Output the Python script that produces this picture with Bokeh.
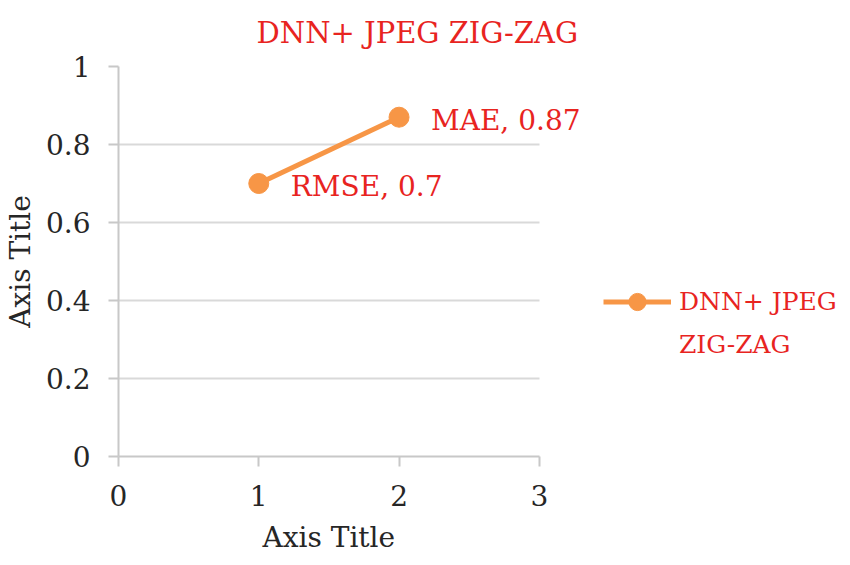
from bokeh.plotting import figure
from bokeh.models import Range1d, FixedTicker, Legend, LegendItem, ColumnDataSource, Title
from bokeh.core.properties import value
from bokeh.embed import file_html
from bokeh.resources import INLINE

# ---- data ----
metric_names = ["RMSE", "MAE"]
x_vals = [1, 2]
y_vals = [0.7, 0.87]
series_name = "DNN+ JPEG ZIG-ZAG"
legend_lines = ["DNN+ JPEG", "ZIG-ZAG"]
x_ticks = [0, 1, 2, 3]
x_tick_labels = ["0", "1", "2", "3"]
y_ticks = [0, 0.2, 0.4, 0.6, 0.8, 1.0]
y_tick_labels = ["0", "0.2", "0.4", "0.6", "0.8", "1"]
x_axis_title = "Axis Title"
y_axis_title = "Axis Title"

FONT = "DejaVu Serif"
RED = "#e8241f"
ORANGE = "#f79646"
TXT = "#262626"
FS = "28px"

X_AXIS_END = 3
X_VIEW_END = 5.14   # frame continues to the right to hold the legend

point_labels = [f"{n}, {v:g}" for n, v in zip(metric_names, y_vals)]
src = ColumnDataSource(dict(x=x_vals, y=y_vals, lab=point_labels))

p = figure(frame_width=721, frame_height=390, output_backend="svg", toolbar_location=None,
           x_range=Range1d(0, X_VIEW_END), y_range=Range1d(0, 1),
           min_border_left=112, min_border_right=1, min_border_top=59, min_border_bottom=100)
p.outline_line_color = None
p.background_fill_color = "white"
p.border_fill_color = "white"

p.title = Title(text=series_name, align="left", offset=138, text_font=FONT, text_font_size="29px",
                text_color=RED, text_font_style="normal", standoff=30, vertical_align="top")

xt = Title(text=x_axis_title, align="left", offset=144, text_font=FONT, text_font_size=FS,
           text_color=TXT, text_font_style="normal", standoff=20)
p.add_layout(xt, "below")

for ax in (p.xaxis[0], p.yaxis[0]):
    ax.axis_line_color = "#c8c8c8"
    ax.axis_line_width = 2
    ax.major_tick_line_color = "#c8c8c8"
    ax.major_tick_line_width = 2
    ax.major_tick_out = 10
    ax.major_tick_in = 0
    ax.minor_tick_line_color = None
    ax.major_label_text_font = FONT
    ax.major_label_text_font_size = FS
    ax.major_label_text_color = TXT
    ax.axis_label_text_font = FONT
    ax.axis_label_text_font_size = FS
    ax.axis_label_text_color = TXT
    ax.axis_label_text_font_style = "normal"

p.yaxis.axis_label = y_axis_title
p.xaxis.axis_label = None
p.xaxis.bounds = (0, X_AXIS_END)
p.xaxis.ticker = FixedTicker(ticks=x_ticks)
p.yaxis.ticker = FixedTicker(ticks=y_ticks)
p.xaxis.major_label_overrides = {t_: l for t_, l in zip(x_ticks, x_tick_labels)}
p.yaxis.major_label_overrides = {t_: l for t_, l in zip(y_ticks, y_tick_labels)}
p.xaxis.major_label_standoff = 18
p.yaxis.major_label_standoff = 18
p.yaxis.axis_label_standoff = 6

p.xgrid.grid_line_color = None
p.ygrid.grid_line_color = "#d9d9d9"
p.ygrid.grid_line_width = 2
p.ygrid.cross_bounds = (0, X_AXIS_END)

ln = p.line("x", "y", source=src, line_color=ORANGE, line_width=5)
sc = p.scatter("x", "y", source=src, size=20, fill_color=ORANGE, line_color=ORANGE)
p.text("x", "y", text="lab", source=src, x_offset=32, y_offset=3, text_font=value(FONT),
       text_font_size="28px", text_color=RED, text_baseline="middle", text_align="left")
blank = p.line(x=[], y=[], line_alpha=0)

legend = Legend(items=[LegendItem(label=legend_lines[0], renderers=[ln, sc]),
                       LegendItem(label=legend_lines[1], renderers=[blank])],
                location=(485, 90), orientation="vertical", border_line_color=None,
                background_fill_alpha=0, label_text_font=FONT, label_text_font_size="25px",
                label_text_color=RED, glyph_width=68, glyph_height=43, padding=0, margin=0,
                spacing=0, label_standoff=8)
p.add_layout(legend, "center")

open("out.html", "w").write(file_html(p, INLINE))
